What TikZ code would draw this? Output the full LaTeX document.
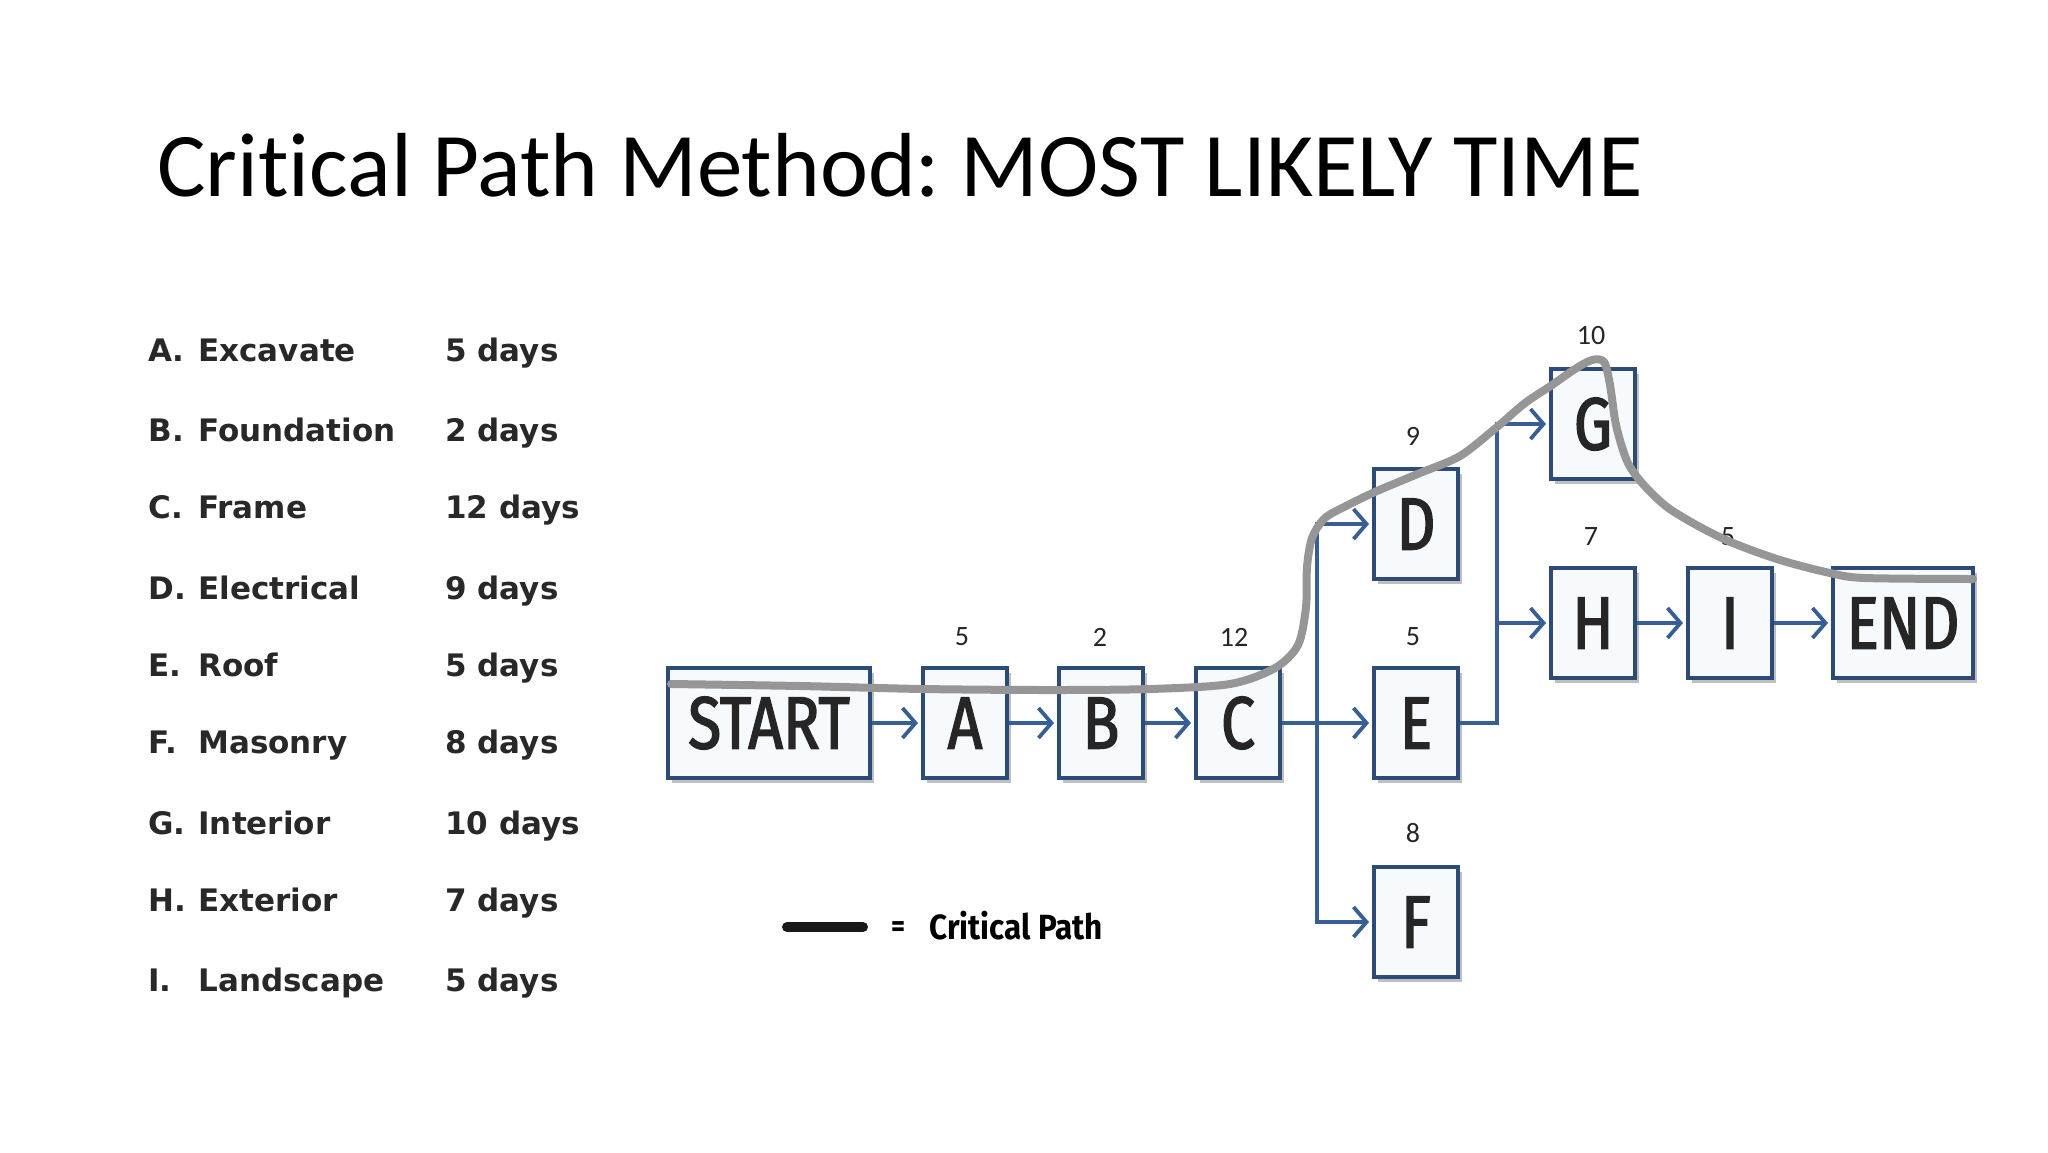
\documentclass[tikz,border=0pt]{standalone}
\usepackage{fontspec}
\setmainfont[Ligatures=NoCommon]{Carlito}
\newfontfamily\listfont{DejaVu Sans}
\newfontfamily\boxfont[FakeStretch=0.82,FakeBold=2]{Fira Sans}
\newfontfamily\legfont[FakeStretch=0.9]{Fira Sans}
\usetikzlibrary{arrows.meta,shadows}
\definecolor{boxblue}{RGB}{45,75,120}
\definecolor{arrblue}{RGB}{55,95,150}
\definecolor{boxfill}{RGB}{247,250,253}
\definecolor{critgray}{RGB}{150,150,150}
\definecolor{listtext}{RGB}{40,40,40}
\frenchspacing
\begin{document}
\begin{tikzpicture}[x=0.5pt,y=-0.5pt,
  box/.style={draw=boxblue, line width=2pt, fill=boxfill, minimum height=55pt,
    minimum width=42pt, inner sep=0pt, text=black!85,
    font=\boxfont\fontsize{37}{37}\selectfont,
    drop shadow={shadow xshift=2pt, shadow yshift=-2.5pt, opacity=0.25, fill=black}},
  num/.style={font=\fontsize{14}{14}\selectfont, text=black!85, inner sep=0pt},
  arr/.style={draw=arrblue, line width=1.9pt,
    -{Straight Barb[length=6.5pt,width=15pt,line width=1.9pt]}, shorten >=1.5pt},
  crit/.style={draw=critgray, line width=4pt, line cap=round, line join=round},
  listitem/.style={anchor=base west, inner sep=0pt, text=listtext,
    font=\listfont\bfseries\fontsize{15.5}{15.5}\selectfont},
  title/.style={anchor=base west, inner sep=0pt, font=\fontsize{45.5}{45.5}\selectfont}
]
\useasboundingbox (0,0) rectangle (2048,1152);
\fill[white] (0,0) rectangle (2048,1152);

% title
\node[title] (title) at (157,196) {Critical Path Method: MOST LIKELY TIME};

% activity list
\foreach \y/\lab/\name/\d [count=\i] in {
  361/A./Excavate/5 days, 441/B./Foundation/2 days, 518/C./Frame/12 days,
  599/D./Electrical/9 days, 676/E./Roof/5 days, 753/F./Masonry/8 days,
  834/G./Interior/10 days, 911/H./Exterior/7 days, 991/I./Landscape/5 days}{
  \node[listitem] (lab\i) at (148,\y) {\lab};
  \node[listitem] (name\i) at (198,\y) {\name};
  \node[listitem] (dur\i) at (445,\y) {\d};
}

% boxes
\node[box, minimum width=101pt] (START) at (769,723) {START};
\node[box] (A) at (965,723) {A};
\node[box] (B) at (1101,723) {B};
\node[box] (C) at (1238,723) {C};
\node[box] (D) at (1416,524) {D};
\node[box] (E) at (1416,723) {E};
\node[box] (F) at (1416,922) {F};
\node[box] (G) at (1593,424) {G};
\node[box] (H) at (1593,623) {H};
\node[box] (I) at (1730,623) {I};
\node[box, minimum width=70pt] (END) at (1903,623) {END};

% durations
\node[num] (nA) at (962,637) {5};
\node[num] (nB) at (1100,637) {2};
\node[num] (nC) at (1234,637) {12};
\node[num] (nD) at (1413,436) {9};
\node[num] (nE) at (1413,637) {5};
\node[num] (nF) at (1413,833) {8};
\node[num] (nG) at (1591,336) {10};
\node[num] (nH) at (1591,537) {7};
\node[num] (nI) at (1728,537) {5};

% connectors
\coordinate (j1) at (1317,723);
\coordinate (j2) at (1497,723);
\draw[arr] (START) -- (A);
\draw[arr] (A) -- (B);
\draw[arr] (B) -- (C);
\draw[arr] (C) -- (E);
\draw[arr] (j1) |- (D.west);
\draw[arr] (j1) |- (F.west);
\draw[arr] (E.east) -- (j2) |- (G.west);
\draw[arr] (j2 |- H.west) -- (H.west);
\draw[arr] (H) -- (I);
\draw[arr] (I) -- (END);

% critical path
\draw[crit] plot[smooth, tension=0.5] coordinates {
  (671,684) (800,686) (923,689) (1050,690) (1150,689) (1230,684) (1275,668)
  (1298,645) (1306,607) (1307,567) (1312,538) (1325,518) (1348,505)
  (1377,491) (1420,473) (1460,456) (1497,427) (1525,403) (1552,385)
  (1575,369) (1592,360) (1604,362) (1610,385) (1616,425) (1627,461)
  (1642,483) (1667,507) (1700,527) (1733,543) (1780,560) (1830,573)
  (1865,578) (1973,579)};

% legend
\coordinate (lg1) at (787,927);
\coordinate (lg2) at (863,927);
\draw[black!90, line width=5pt, line cap=round] (lg1) -- (lg2);
\node[font=\legfont\bfseries\fontsize{15}{15}\selectfont, inner sep=0pt] (eq) at (898,929) {=};
\node[anchor=west, inner sep=0pt, font=\legfont\bfseries\fontsize{17.5}{17.5}\selectfont] (leg) at (929,926) {Critical Path};
\end{tikzpicture}
\end{document}
